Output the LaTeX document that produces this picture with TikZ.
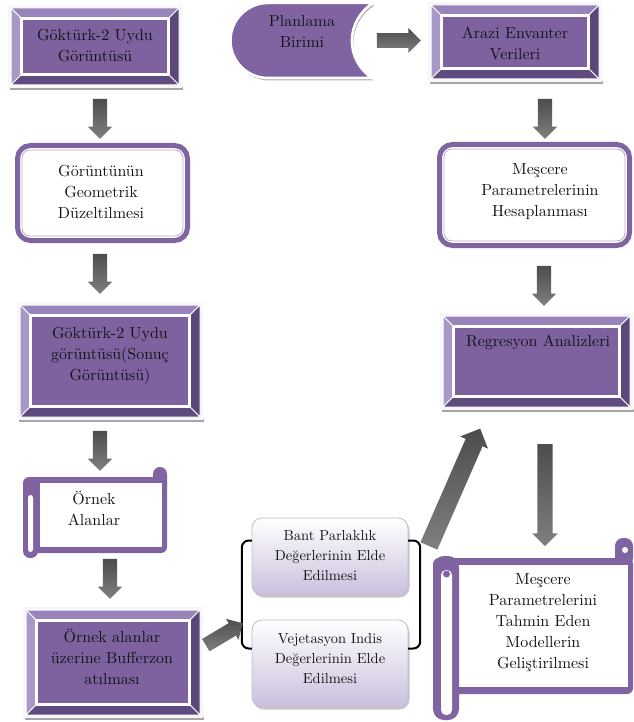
\documentclass[tikz,border=0pt]{standalone}
\usepackage{fontspec}
\setmainfont{lmroman10-regular.otf}
\usetikzlibrary{shapes.arrows,calc,fit}
\definecolor{pmain}{HTML}{8064A2}
\definecolor{pin}{HTML}{7E62A0}
\definecolor{btop}{HTML}{9983BB}
\definecolor{bleft}{HTML}{A898C8}
\definecolor{bright}{HTML}{5C477B}
\definecolor{bbot}{HTML}{5F4B80}
\definecolor{lav}{HTML}{CBBFDD}
\definecolor{lavb}{HTML}{C4BAD6}
\tikzset{
  lbl/.style={align=center, font=\fontsize{16}{21}\selectfont, text=black!92, inner sep=0pt},
  lbls/.style={align=center, font=\fontsize{14.5}{20}\selectfont, text=black!92, inner sep=0pt},
  barrow/.style={single arrow, draw=none, inner xsep=0pt, inner ysep=7pt, minimum width=24pt,
    single arrow head extend=5pt, top color=black!70, middle color=black!8, bottom color=black!50},
  bracket/.style={line width=2pt, rounded corners=7pt, black},
  boxname/.style={inner sep=0pt, draw=none}
}
\newcommand\bevelbox[5]{%
  \fill[black!35] (#2+2,#5-1) rectangle (#4+1,#5+2);
  \fill[white!94!pmain] (#2,#3) rectangle (#4,#5);
  \filldraw[white, line width=1pt, fill=btop] (#2+3,#3+3) -- (#4-3,#3+3) -- (#4-13,#3+13) -- (#2+13,#3+13) -- cycle;
  \filldraw[white, line width=1pt, fill=bleft] (#2+3,#3+3) -- (#2+13,#3+13) -- (#2+13,#5-13) -- (#2+3,#5-3) -- cycle;
  \filldraw[white, line width=1pt, fill=bright] (#4-3,#3+3) -- (#4-3,#5-3) -- (#4-13,#5-13) -- (#4-13,#3+13) -- cycle;
  \filldraw[white, line width=1pt, fill=bbot] (#2+3,#5-3) -- (#4-3,#5-3) -- (#4-13,#5-13) -- (#2+13,#5-13) -- cycle;
  \filldraw[white, line width=2.5pt, fill=pin] (#2+13.5,#3+13.5) rectangle (#4-13.5,#5-13.5);
  \path (#2,#3) coordinate (#1-nw) (#4,#5) coordinate (#1-se);
  \node[fit=(#1-nw)(#1-se), boxname] (#1) {};
}
\newcommand\dblbox[5]{%
  \draw[pmain, line width=5pt, fill=white, rounded corners=13pt] (#2+2.5,#3+2.5) rectangle (#4-2.5,#5-2.5);
  \draw[pmain!55, line width=0.8pt, rounded corners=8pt] (#2+7,#3+7) rectangle (#4-7,#5-7);
  \path (#2,#3) coordinate (#1-nw) (#4,#5) coordinate (#1-se);
  \node[fit=(#1-nw)(#1-se), boxname] (#1) {};
}
\newcommand\gradbox[5]{%
  \fill[black!22, rounded corners=10pt] (#2+1.5,#3+2.5) rectangle (#4+1.5,#5+2.5);
  \draw[lavb, line width=0.8pt, rounded corners=10pt, top color=white, bottom color=lav] (#2,#3) rectangle (#4,#5);
  \path (#2,#3) coordinate (#1-nw) (#4,#5) coordinate (#1-se);
  \node[fit=(#1-nw)(#1-se), boxname] (#1) {};
}
\begin{document}
\begin{tikzpicture}[x=1pt,y=-1pt]
\useasboundingbox[fill=white] (0,0) rectangle (633,722);

% ---------- left column ----------
\bevelbox{goktu}{8}{5}{182}{88}
\node[lbl] (goktut) at (95,46) {Göktürk-2 Uydu\\Görüntüsü};

\dblbox{geom}{15}{143}{190}{243}
\node[lbl] (geomt) at (101,192) {Görüntünün\\Geometrik\\Düzeltilmesi};

\bevelbox{sonuc}{17}{302}{203}{420}
\node[lbl] (sonuct) at (110,356) {Göktürk-2 Uydu\\görüntüsü(Sonuç\\Görüntüsü)};

% vertical scroll
\fill[pmain, rounded corners=6pt] (23,477) rectangle (167,553);
\fill[pmain, rounded corners=7pt] (153,467) rectangle (167,492);
\fill[pmain, rounded corners=7pt] (23,480) rectangle (38,558);
\fill[white] (40,483) rectangle (162,547);
\fill[white, rounded corners=2.5pt] (28,495) rectangle (33,552);
\path (23,467) coordinate (ornek-nw) (167,558) coordinate (ornek-se);
\node[fit=(ornek-nw)(ornek-se), boxname] (ornek) {};
\node[lbl] (ornekt) at (94,508) {Örnek\\Alanlar};

\bevelbox{buffer}{23}{607}{203}{718}
\node[lbl] (buffert) at (112,657) {Örnek alanlar\\üzerine Bufferzon\\atılması};

% ---------- middle ----------
\gradbox{bant}{252}{518}{408}{595}
\node[lbls] (bantt) at (330,556) {Bant Parlaklık\\Değerlerinin Elde\\Edilmesi};
\gradbox{veg}{252}{620}{408}{707}
\node[lbls] (vegt) at (330,659) {Vejetasyon Indis\\Değerlerinin Elde\\Edilmesi};
\draw[bracket] ($(bant.west)+(0,-16)$) -- ++(-10,0) |- ($(veg.west)+(0,-15)$);
\draw[bracket] ($(bant.east)+(0,-16)$) -- ++(12,0) |- ($(veg.east)+(0,-15)$);

% ---------- right column ----------
\fill[black!28] (374.5,5.5) -- (269.5,5.5) arc[start angle=270, end angle=90, radius=37.5] -- (373.5,80.5) .. controls (346.5,62.5) and (346.5,23.5) .. cycle;
\filldraw[white, line width=2.5pt, fill=pmain] (373,3) -- (268,3) arc[start angle=270, end angle=90, radius=37.5] -- (372,78) .. controls (345,60) and (345,21) .. cycle;
\path (230,3) coordinate (plan-nw) (373,78) coordinate (plan-se);
\node[fit=(plan-nw)(plan-se), boxname] (plan) {};
\node[lbl] (plant) at (302,31) {Planlama\\Birimi};

\bevelbox{arazi}{428}{2}{602}{82}
\node[lbl] (arazit) at (515,43) {Arazi Envanter\\Verileri};

\dblbox{hes}{437}{142}{632}{248}
\node[lbl] (hest) at (540,192) {Meşcere\\Parametrelerinin\\Hesaplanması};

\bevelbox{reg}{440}{313}{633}{410}
\node[lbl] (regt) at (538,342) {Regresyon Analizleri};

% horizontal scroll
\fill[pmain, rounded corners=6pt] (433,558) rectangle (633,694);
\fill[pmain, rounded corners=8pt] (615,538) rectangle (633,566);
\fill[white] (625,550) circle (3);
\fill[white] (458,565) rectangle (628,687);
\fill[pmain, rounded corners=11pt] (433,556) rectangle (459,720);
\fill[white, rounded corners=5pt] (441,570) rectangle (452,715);
\fill[pmain] (446.5,574) circle (3.5);
\path (433,538) coordinate (model-nw) (633,720) coordinate (model-se);
\node[fit=(model-nw)(model-se), boxname] (model) {};
\node[lbl] (modelt) at (543,623) {Meşcere\\Parametrelerini\\Tahmin Eden\\Modellerin\\Geliştirilmesi};

% ---------- block arrows ----------
\node[barrow, minimum height=40pt, rotate=-90] (a1) at ($(goktu.south)+(5,27)$) {};
\node[barrow, minimum height=40pt, rotate=-90] (a2) at ($(geom.south)+(-2.5,27)$) {};
\node[barrow, minimum height=40pt, rotate=-90] (a3) at ($(sonuc.south)+(-10,27)$) {};
\node[barrow, minimum height=40pt, rotate=-90] (a4) at ($(ornek.south)+(15,17)$) {};
\node[barrow, minimum height=43pt, rotate=30.7] (a5) at ($(buffer.east)+(18,-26.5)$) {};
\node[barrow, minimum height=44pt, minimum width=25pt] (a6) at ($(plan.east)+(22,0)$) {};
\node[barrow, minimum height=40pt, rotate=-90] (a7) at ($(arazi.south)+(30,33)$) {};
\node[barrow, minimum height=40pt, rotate=-90] (a8) at ($(hes.south)+(9.5,34)$) {};
\node[barrow, minimum height=128pt, minimum width=30pt, inner ysep=9pt, single arrow head extend=6pt, rotate=66.4] (a9) at ($(bant.east)+(44.5,-65)$) {};
\node[barrow, minimum height=102pt, minimum width=25pt, inner ysep=7.5pt, rotate=-90] (a10) at ($(reg.south)+(8.5,81)$) {};
\end{tikzpicture}
\end{document}
